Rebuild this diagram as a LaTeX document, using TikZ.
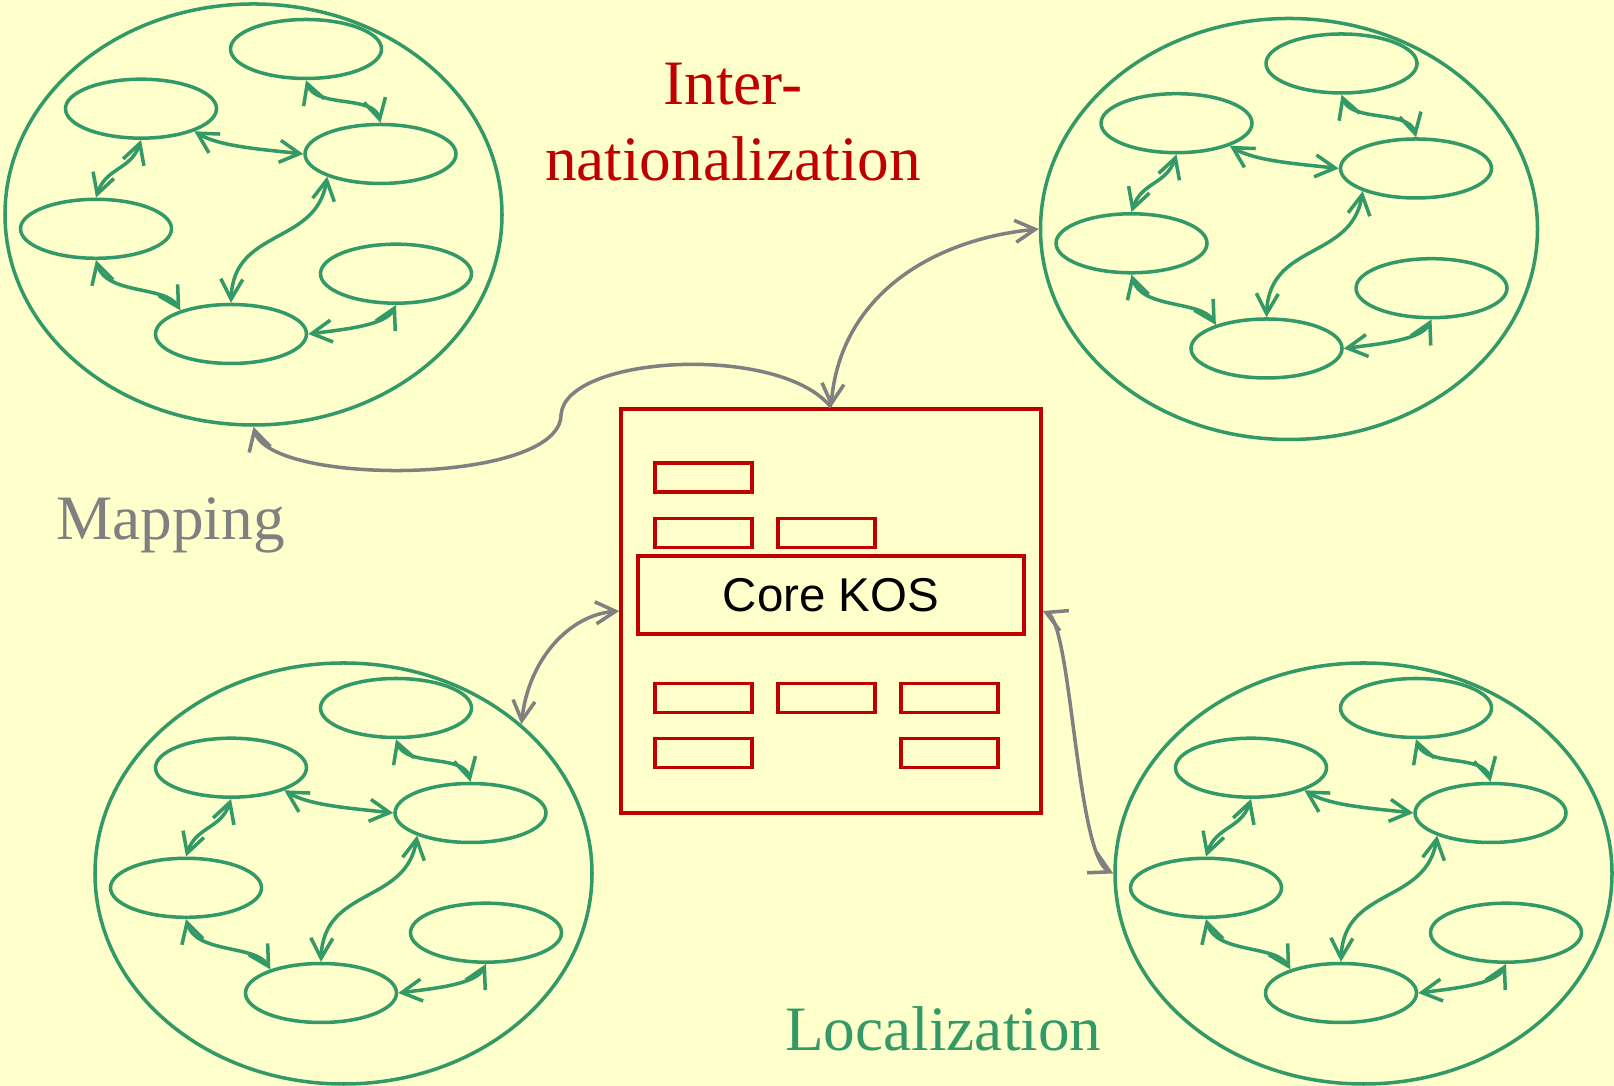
\documentclass[tikz,border=0pt]{standalone}
\usepackage{fontspec}
\setmainfont{Liberation Serif}
\newfontfamily\coresans{Liberation Sans}
\usepackage{xcolor}
\usepackage{tikz}
\usetikzlibrary{shapes.geometric,arrows.meta}
\definecolor{paper}{HTML}{FFFFCC}
\definecolor{kosgreen}{HTML}{339966}
\definecolor{kosred}{HTML}{C00000}
\definecolor{linkgray}{HTML}{808080}

\begin{document}
\begin{tikzpicture}[
  >={Straight Barb[length=2mm,width=2.2mm]},
  ring/.style={ellipse, draw=kosgreen, line width=1pt, inner sep=0pt,
               minimum width=4.97cm, minimum height=4.21cm},
  term/.style={ellipse, draw=kosgreen, line width=1pt, inner sep=0pt,
               minimum width=1.51cm, minimum height=0.59cm},
  slot/.style={draw=kosred, line width=1pt, inner sep=0pt,
               minimum width=0.97cm, minimum height=0.29cm},
  link/.style={draw=kosgreen, line width=1pt, <->},
  grayline/.style={draw=linkgray, line width=1pt},
  label/.style={inner sep=0pt, font=\fontsize{18}{21.6}\selectfont}
]
\useasboundingbox (0,0) rectangle (16.14,10.86);
\fill[paper] (0,0) rectangle (16.14,10.86);

% four concept clusters
\foreach \i/\cx/\cy in {1/2.535/8.715, 2/12.89/8.57, 3/3.435/2.125, 4/13.635/2.125}{
  \begin{scope}[shift={(\cx,\cy)}]
  \node[ring] (c\i) at (0,0) {};
  \node[term] (c\i-a) at (0.525,1.655) {};
  \node[term] (c\i-b) at (-1.125,1.058) {};
  \node[term] (c\i-c) at (1.27,0.605) {};
  \node[term] (c\i-d) at (-1.575,-0.143) {};
  \node[term] (c\i-e) at (1.425,-0.592) {};
  \node[term] (c\i-f) at (-0.225,-1.195) {};
  \draw[link] (c\i-a.south) .. controls +(0.1,-0.28) and +(-0.07,0.28) .. (c\i-c.north);
  \draw[link] (c\i-b.-23) .. controls +(0.25,-0.15) and +(-0.45,0.05) .. (c\i-c.west);
  \draw[link] (c\i-b.south) .. controls +(-0.1,-0.3) and +(0.1,0.3) .. (c\i-d.north);
  \draw[link] (c\i-d.south) .. controls +(0.1,-0.35) and +(-0.15,0.25) .. (c\i-f.155);
  \draw[link] (c\i-f.north) .. controls +(0.025,0.75) and +(-0.11,-0.69) .. (c\i-c.203);
  \draw[link] (c\i-e.south) .. controls +(-0.1,-0.2) and +(0.4,0.05) .. (c\i-f.east);
  \end{scope}
}

% core KOS
\node[draw=kosred, line width=1pt, minimum width=4.2cm, minimum height=4.04cm] (kos) at (8.31,4.75) {};
\node[draw=kosred, line width=1pt, minimum width=3.863cm, minimum height=0.78cm,
      font=\coresans\fontsize{13.5}{16}\selectfont] (core) at (8.31,4.91) {Core KOS};
\foreach \s/\x/\y in {a/7.035/6.085, b/7.035/5.53, c/8.265/5.53, d/7.035/3.88,
                      e/8.265/3.88, f/9.495/3.88, g/7.035/3.33, h/9.495/3.33}
  \node[slot] (slot-\s) at (\x,\y) {};

% links to the core
\coordinate (mapbend) at (5.61,6.71);
\draw[grayline, <-] (c1.south) .. controls +(0.165,-0.6) and +(-0.01,-0.7) .. (mapbend)
  .. controls +(0.04,0.6) and +(-0.51,0.64) .. (kos.north);
\draw[grayline, <->] (kos.north) .. controls +(0.09,1.09) and +(-1.105,-0.11) .. (c2.west);
\draw[grayline, <->] (c3.40) .. controls +(0.07,0.64) and +(-0.507,-0.04) .. (kos.west);
\draw[grayline, <->] (kos.east) .. controls +(0.29,-0.13) and +(-0.37,0.185) .. (c4.west);

% labels
\node[label, text=kosred, align=center, anchor=south] (intl) at (7.33,9.043) {Inter-\\nationalization};
\node[label, text=linkgray, anchor=base] (mapping) at (1.705,5.46) {Mapping};
\node[label, text=kosgreen, anchor=base] (localization) at (9.433,0.353) {Localization};
\end{tikzpicture}
\end{document}
